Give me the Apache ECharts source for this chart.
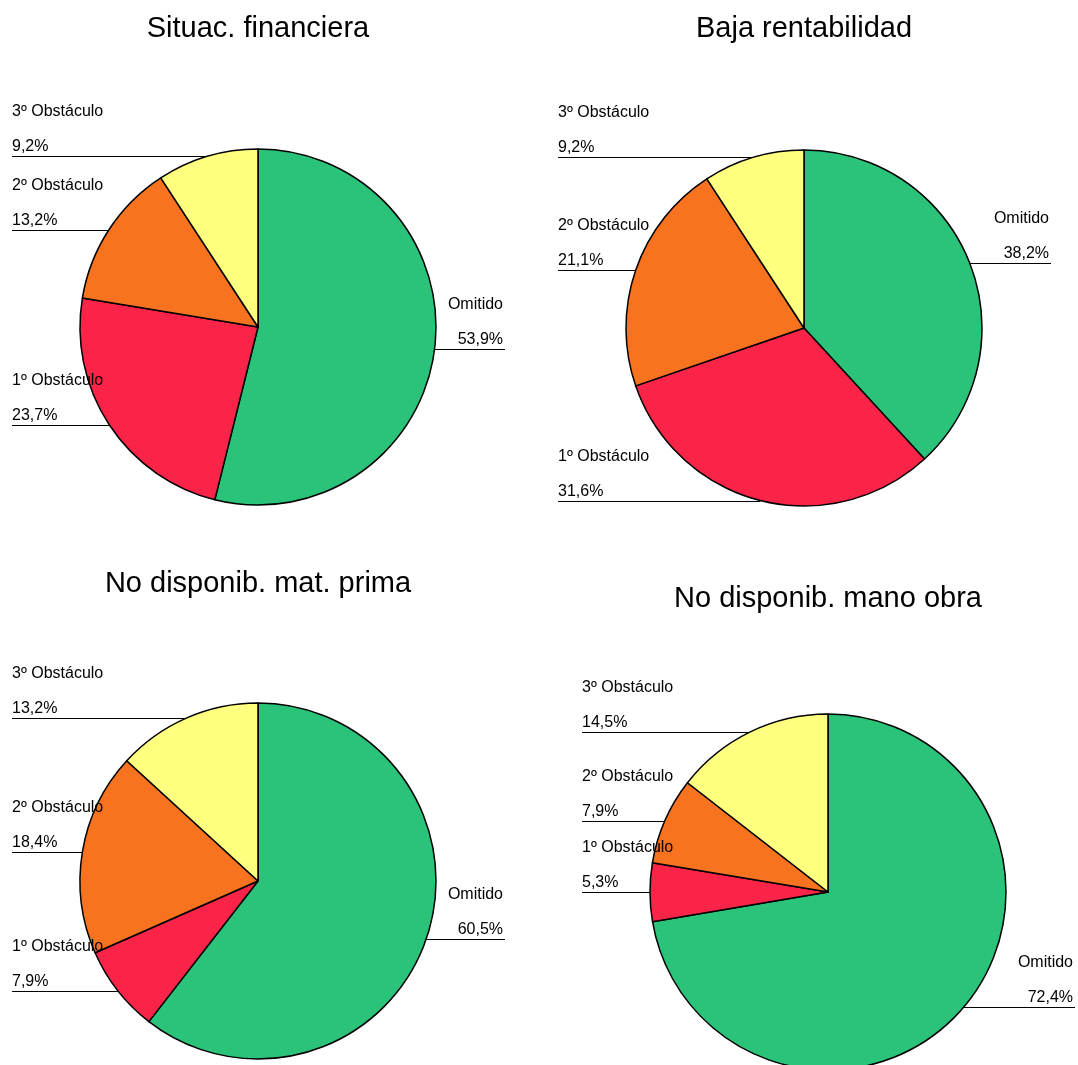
<!DOCTYPE html>
<html>
<head>
<meta charset="utf-8">
<script src="https://cdn.jsdelivr.net/npm/echarts@6/dist/echarts.min.js"></script>
<style>
  html, body { margin: 0; padding: 0; background: #ffffff; }
  #chart { width: 1078px; height: 1065px; }
</style>
</head>
<body>
<div id="chart"></div>
<script>
// Slice categories (drawn clockwise from 12 o'clock)
const categories = ['Omitido', '1º Obstáculo', '2º Obstáculo', '3º Obstáculo'];

// Panel titles
const chartTitles = [
  'Situac. financiera',
  'Baja rentabilidad',
  'No disponib. mat. prima',
  'No disponib. mano obra'
];

// Percentages per panel, same order as categories
const situacFinanciera = [53.9, 23.7, 13.2, 9.2];
const bajaRentabilidad = [38.2, 31.6, 21.1, 9.2];
const matPrima = [60.5, 7.9, 18.4, 13.2];
const manoObra = [72.4, 5.3, 7.9, 14.5];
const seriesValues = [situacFinanciera, bajaRentabilidad, matPrima, manoObra];

// Slice colours
const sliceColors = ['#2bc27a', '#f92448', '#f8731f', '#ffff80'];

// Panel geometry (pixels)
const panels = [
  { center: [258, 327], radius: 178, titleTop: 14 },
  { center: [804, 328], radius: 178, titleTop: 14 },
  { center: [258, 881], radius: 178, titleTop: 569 },
  { center: [828, 892], radius: 178, titleTop: 584 }
];
const LABEL_REACH = 246;   // horizontal distance from pie centre to label edge
const FONT = "'Liberation Sans', Arial, Helvetica, sans-serif";

function fmtPct(v) {
  return v.toFixed(1).replace('.', ',') + '%';
}

// Mid angle of a slice, clockwise from 12 o'clock, in radians
function midAngle(values, idx) {
  const total = values.reduce((a, b) => a + b, 0);
  let before = 0;
  for (let i = 0; i < idx; i++) before += values[i];
  return ((before + values[idx] / 2) / total) * Math.PI * 2;
}

function anchorPoint(si, di) {
  const p = panels[si];
  const a = midAngle(seriesValues[si], di);
  return {
    x: p.center[0] + p.radius * Math.sin(a),
    y: p.center[1] - p.radius * Math.cos(a),
    right: Math.sin(a) > 0
  };
}

const richStyles = {
  nl: { fontSize: 16, lineHeight: 50, fontFamily: FONT, color: '#000', align: 'left' },
  vl: { fontSize: 16, lineHeight: 20, fontFamily: FONT, color: '#000', align: 'left' },
  nr: { fontSize: 16, lineHeight: 50, fontFamily: FONT, color: '#000', align: 'right' },
  vr: { fontSize: 16, lineHeight: 20, fontFamily: FONT, color: '#000', align: 'right' }
};

const series = seriesValues.map((vals, si) => ({
  type: 'pie',
  center: panels[si].center,
  radius: panels[si].radius,
  startAngle: 90,
  clockwise: true,
  avoidLabelOverlap: false,
  animation: false,
  silent: true,
  emphasis: { disabled: true },
  itemStyle: { borderColor: '#000000', borderWidth: 1.5 },
  label: {
    show: true,
    position: 'outside',
    alignTo: 'none',
    formatter: (params) => {
      const side = anchorPoint(params.seriesIndex, params.dataIndex).right ? 'r' : 'l';
      return '{n' + side + '|' + params.name + '}\n{v' + side + '|' + fmtPct(params.value) + '}';
    },
    rich: richStyles
  },
  labelLine: {
    show: true,
    length: 0,
    length2: 0,
    smooth: false,
    lineStyle: { color: '#000000', width: 1.2 }
  },
  labelLayout: (params) => {
    const si = params.seriesIndex;
    const pt = anchorPoint(si, params.dataIndex);
    const cx = panels[si].center[0];
    const y = Math.round(pt.y) + 0.5;
    if (pt.right) {
      const endX = cx + LABEL_REACH + 1;
      return {
        x: cx + LABEL_REACH - 1,
        y: y,
        align: 'right',
        verticalAlign: 'bottom',
        labelLinePoints: [[pt.x, y], [(pt.x + endX) / 2, y], [endX, y]]
      };
    }
    const startX = cx - LABEL_REACH;
    return {
      x: startX,
      y: y,
      align: 'left',
      verticalAlign: 'bottom',
      labelLinePoints: [[pt.x, y], [(pt.x + startX) / 2, y], [startX, y]]
    };
  },
  data: categories.map((name, i) => ({
    name: name,
    value: vals[i],
    itemStyle: { color: sliceColors[i] }
  }))
}));

const titles = chartTitles.map((t, i) => ({
  text: t,
  left: panels[i].center[0],
  top: panels[i].titleTop,
  textAlign: 'center',
  padding: 0,
  textStyle: { fontSize: 29, fontWeight: 'normal', color: '#000', fontFamily: FONT }
}));

const chart = echarts.init(document.getElementById('chart'), null, { renderer: 'canvas' });
chart.setOption({
  backgroundColor: '#ffffff',
  animation: false,
  title: titles,
  series: series
});
</script>
</body>
</html>
